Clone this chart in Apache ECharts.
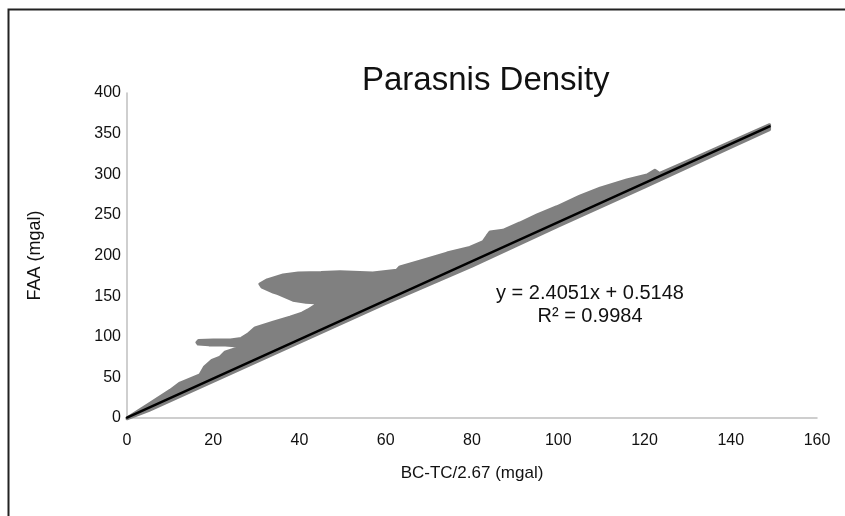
<!DOCTYPE html>
<html>
<head>
<meta charset="utf-8">
<script src="https://cdn.jsdelivr.net/npm/echarts@6/dist/echarts.min.js"></script>
<style>
  html, body { margin: 0; padding: 0; background: #fff; }
  #chart { width: 845px; height: 516px; }
</style>
</head>
<body>
<div id="chart"></div>
<script>
// outline of the scatter cloud (upper edge left->right, then lower edge back)
const cloudX = [0, 5, 10, 12.3, 16.9, 18, 19.7, 21.6, 22.7, 25, 27.5, 25, 22, 19, 16.5, 16.2, 16.6, 20, 24, 26.5, 28, 29.7, 33.9, 37.8, 40.6, 42, 44.5, 41.5, 38.5, 35, 33.9, 31.3, 30.8, 32.5, 36.2, 39.7, 45, 49.4, 57, 62.6, 63.3, 67.9, 74.2, 79.5, 82.6, 83.5, 84.2, 87.2, 91.1, 95.1, 99.7, 105, 109.7, 115.9, 120.6, 122.4, 123.5, 130, 140, 149,
                149, 140, 120, 100, 80, 60, 40, 20, 5, 0];
const cloudY = [0, 17, 34, 43, 53, 63, 71, 75, 81, 85, 87, 89, 90, 90, 91, 93, 95.5, 96, 96, 98, 103, 111, 118, 124, 129, 133, 141.5, 142.5, 145, 153, 155, 161, 165, 170, 176, 178.5, 179, 180, 178.5, 182, 186, 193, 203, 210, 217, 224, 229, 231, 240, 250, 260, 273, 283, 293, 299, 305, 301, 316, 340, 361,
                355, 333, 284, 236, 187, 141, 93, 45, 9, -1];

// linear trendline y = 2.4051x + 0.5148, end points
const trendX = [0, 149];
const trendY = [0.51, 358.9];

const xTicks = { min: 0, max: 160, interval: 20 };
const yTicks = { min: 0, max: 400, interval: 50 };

const chart = echarts.init(document.getElementById('chart'));
const font = 'Liberation Sans, Arial, sans-serif';

const option = {
  animation: false,
  title: {
    text: 'Parasnis Density',
    left: 357,
    top: 59,
    textStyle: { fontFamily: font, fontSize: 33, fontWeight: 'normal', color: '#111' }
  },
  grid: { left: 127, right: 28, top: 93, bottom: 98 },
  xAxis: {
    type: 'value',
    min: xTicks.min, max: xTicks.max, interval: xTicks.interval,
    name: 'BC-TC/2.67 (mgal)',
    nameLocation: 'middle',
    nameGap: 47,
    nameTextStyle: { fontFamily: font, fontSize: 17, color: '#111' },
    axisLine: { lineStyle: { color: '#bfbfbf', width: 1.5 } },
    axisTick: { show: false },
    axisLabel: { fontFamily: font, fontSize: 16, color: '#111', margin: 15 },
    splitLine: { show: false }
  },
  yAxis: {
    type: 'value',
    min: yTicks.min, max: yTicks.max, interval: yTicks.interval,
    name: 'FAA (mgal)',
    nameLocation: 'middle',
    nameGap: 83,
    nameTextStyle: { fontFamily: font, fontSize: 18, color: '#111' },
    axisLine: { show: true, lineStyle: { color: '#bfbfbf', width: 1.5 } },
    axisTick: { show: false },
    axisLabel: { fontFamily: font, fontSize: 16, color: '#111', margin: 6 },
    splitLine: { show: false }
  },
  series: [
    {
      type: 'custom',
      data: cloudX.map((x, i) => [x, cloudY[i]]),
      renderItem: function (params, api) {
        if (params.dataIndex !== 0) return;
        const pts = cloudX.map((x, i) => api.coord([x, cloudY[i]]));
        return {
          type: 'polygon',
          shape: { points: pts },
          style: { fill: '#808080', stroke: '#808080', lineWidth: 3, lineJoin: 'round' }
        };
      },
      silent: true,
      z: 1
    },
    {
      type: 'line',
      data: trendX.map((x, i) => [x, trendY[i]]),
      symbol: 'none',
      lineStyle: { color: '#000', width: 2.5, cap: 'round' },
      z: 2
    }
  ],
  graphic: [
    {
      type: 'rect',
      left: 6, top: 7,
      shape: { width: 900, height: 600 },
      style: { fill: 'none', stroke: '#222', lineWidth: 2 },
      z: 10
    },
    {
      type: 'text',
      x: 590, y: 282,
      style: {
        text: 'y = 2.4051x + 0.5148\nR² = 0.9984',
        fontFamily: font, fontSize: 20, fill: '#111',
        align: 'center', lineHeight: 23
      },
      z: 10
    }
  ]
};

chart.setOption(option);
</script>
</body>
</html>
